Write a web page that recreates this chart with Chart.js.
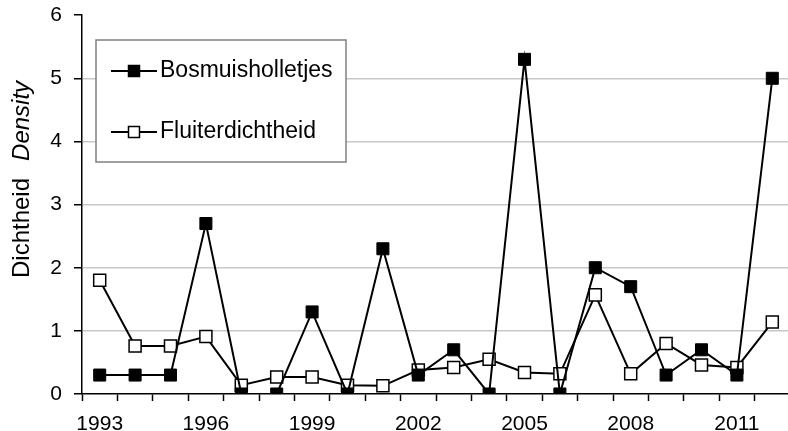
<!DOCTYPE html>
<html>
<head>
<meta charset="utf-8">
<script src="https://cdn.jsdelivr.net/npm/chart.js@4/dist/chart.umd.min.js"></script>
<style>
  html, body { margin: 0; padding: 0; background: #fff; overflow: hidden; }
</style>
</head>
<body>
<canvas id="density_chart" width="800" height="431"></canvas>
<script>
const years = ['1993','1994','1995','1996','1997','1998','1999','2000','2001','2002',
               '2003','2004','2005','2006','2007','2008','2009','2010','2011','2012'];
const bosmuis = [0.3, 0.3, 0.3, 2.7, 0, 0, 1.3, 0, 2.3, 0.3,
                 0.7, 0, 5.3, 0, 2.0, 1.7, 0.3, 0.7, 0.3, 5.0];
const fluiter = [1.80, 0.76, 0.76, 0.91, 0.14, 0.27, 0.27, 0.14, 0.13, 0.38,
                 0.42, 0.55, 0.34, 0.32, 1.57, 0.32, 0.80, 0.46, 0.42, 1.14];
const yTicks = [0, 1, 2, 3, 4, 5, 6];

const FONT = '"Liberation Sans", Arial, sans-serif';

// legend box inside the plot + two-style y title
const extras = {
    id: 'extras',
    afterDraw(chart) {
        const ctx = chart.ctx;
        ctx.save();

        // y title: "Dichtheid  Density" (Density in italics), read bottom to top
        ctx.translate(29, 278);
        ctx.rotate(-Math.PI / 2);
        ctx.fillStyle = '#000';
        ctx.textBaseline = 'alphabetic';
        ctx.textAlign = 'left';
        ctx.font = '24px ' + FONT;
        const w1 = ctx.measureText('Dichtheid').width;
        ctx.fillText('Dichtheid', 0, 0);
        ctx.font = 'italic 24px ' + FONT;
        ctx.fillText('Density', w1 + 17, 0);
        ctx.restore();

        // legend
        ctx.save();
        ctx.fillStyle = '#fff';
        ctx.fillRect(96, 40, 250, 122);
        ctx.strokeStyle = '#808080';
        ctx.lineWidth = 1.5;
        ctx.strokeRect(96, 40, 250, 122);
        const rows = [71, 132];
        chart.data.datasets.forEach((ds, i) => {
            const y = rows[i];
            ctx.strokeStyle = ds.borderColor;
            ctx.lineWidth = 2;
            ctx.beginPath();
            ctx.moveTo(111, y);
            ctx.lineTo(157, y);
            ctx.stroke();
            ctx.fillStyle = ds.pointBackgroundColor;
            ctx.fillRect(128.5, y - 5.5, 11, 11);
            ctx.lineWidth = 1.5;
            ctx.strokeStyle = '#000';
            ctx.strokeRect(128.5, y - 5.5, 11, 11);
            ctx.fillStyle = '#000';
            ctx.font = '23px ' + FONT;
            ctx.textBaseline = 'middle';
            ctx.textAlign = 'left';
            ctx.fillText(ds.label, 160, y);
        });
        ctx.restore();
    }
};

const myChart = document.getElementById('density_chart').getContext('2d');

const densityChart = new Chart(myChart, {
    type: 'line',
    data: {
        labels: years,
        datasets: [
            {
                label: 'Bosmuisholletjes',
                data: bosmuis,
                borderColor: '#000',
                borderWidth: 2,
                pointStyle: 'rect',
                pointRadius: 8.5,
                pointBackgroundColor: '#000',
                pointBorderColor: '#000',
                pointBorderWidth: 1,
                tension: 0
            },
            {
                label: 'Fluiterdichtheid',
                data: fluiter,
                borderColor: '#000',
                borderWidth: 2,
                pointStyle: 'rect',
                pointRadius: 8.5,
                pointBackgroundColor: '#fff',
                pointBorderColor: '#000',
                pointBorderWidth: 1.5,
                tension: 0
            }
        ]
    },
    options: {
        responsive: false,
        animation: false,
        layout: { padding: { top: 0, right: 6, left: 0, bottom: 0 } },
        plugins: {
            legend: { display: false },
            tooltip: { enabled: false }
        },
        scales: {
            x: {
                type: 'category',
                offset: true,
                grid: {
                    offset: true,
                    drawOnChartArea: false,
                    tickLength: 7,
                    tickColor: '#000',
                    tickWidth: 1.5
                },
                border: { color: '#000', width: 1.5 },
                ticks: {
                    autoSkip: false,
                    maxRotation: 0,
                    color: '#000',
                    font: { family: FONT, size: 21 },
                    padding: 11,
                    callback: (v, i) => (i % 3 === 0 ? years[i] : '')
                },
                afterFit: s => { s.height = 37; }
            },
            y: {
                min: 0,
                max: 6,
                afterBuildTicks: s => { s.ticks = yTicks.map(v => ({ value: v })); },
                grid: {
                    color: c => (c.tick && c.tick.value > 0 && c.tick.value < 6 ? '#c8c8c8' : 'rgba(0,0,0,0)'),
                    lineWidth: 1.5,
                    tickLength: 8,
                    tickColor: '#000',
                    tickWidth: 1.5
                },
                border: { color: '#000', width: 1.5 },
                ticks: {
                    color: '#000',
                    font: { family: FONT, size: 21, lineHeight: 0.3 },
                    padding: 12
                },
                afterFit: s => { s.width = 82; }
            }
        }
    },
    plugins: [extras]
});
</script>
</body>
</html>
